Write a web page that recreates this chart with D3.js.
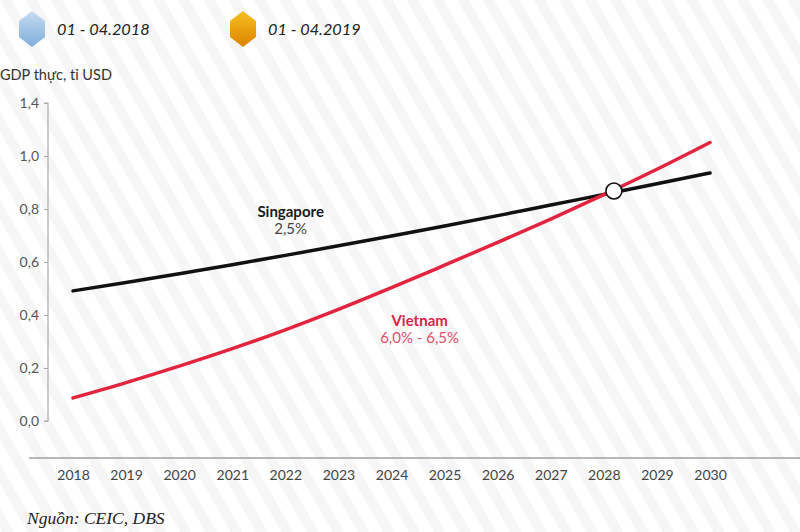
<!DOCTYPE html>
<html><head><meta charset="utf-8">
<script src="https://cdn.jsdelivr.net/npm/d3@7"></script>
<style>html,body{margin:0;padding:0;background:#fff;}svg{display:block;}</style>
</head><body>
<script>
const years = [2018,2019,2020,2021,2022,2023,2024,2025,2026,2027,2028,2029,2030];
const singapore = [0.491,0.523,0.556,0.590,0.625,0.661,0.698,0.736,0.775,0.815,0.855,0.895,0.936];
const vietnam = [0.087,0.145,0.207,0.273,0.344,0.421,0.503,0.588,0.674,0.762,0.854,0.950,1.051];
const yTickValues = [0,0.2,0.4,0.6,0.8,1.0,1.2];
const yTickLabels = ["0,0","0,2","0,4","0,6","0,8","1,0","1,4"];
const crossing = {year: 2028.19, value: 0.868};
const legendItems = ["01 - 04.2018","01 - 04.2019"];
const seriesLabels = [
  {name:"Singapore", rate:"2,5%", year:2022.1, value:0.77},
  {name:"Vietnam", rate:"6,0% - 6,5%", year:2024.53, value:0.357}
];

const W=800,H=532;
const svg=d3.select("body").append("svg").attr("width",W).attr("height",H);
const defs=svg.append("defs");
const pat=defs.append("pattern").attr("id","stripes").attr("patternUnits","userSpaceOnUse")
  .attr("width",22).attr("height",22).attr("patternTransform","rotate(-30)");
pat.append("rect").attr("width",22).attr("height",22).attr("fill","#ffffff");
pat.append("rect").attr("width",10).attr("height",22).attr("fill","#f6f6f6");
svg.append("rect").attr("width",W).attr("height",H).attr("fill","url(#stripes)");

const gB=defs.append("linearGradient").attr("id","gBlue").attr("x1",0).attr("y1",0).attr("x2",0).attr("y2",1);
gB.append("stop").attr("offset","0%").attr("stop-color","#c6dcf1");
gB.append("stop").attr("offset","100%").attr("stop-color","#7eaedb");
const gO=defs.append("linearGradient").attr("id","gOrange").attr("x1",0).attr("y1",0).attr("x2",0).attr("y2",1);
gO.append("stop").attr("offset","0%").attr("stop-color","#f5c01e");
gO.append("stop").attr("offset","100%").attr("stop-color","#de8200");

const x=d3.scaleLinear().domain([2018,2030]).range([73,710]);
const y=d3.scaleLinear().domain([0,1.2]).range([421,103]);

// legend
const hex=(cx,cy,w,h)=>{const hw=w/2,hh=h/2,q=h/4;return `M${cx},${cy-hh} L${cx+hw},${cy-hh+q+1} L${cx+hw},${cy+hh-q-1} L${cx},${cy+hh} L${cx-hw},${cy+hh-q-1} L${cx-hw},${cy-hh+q+1} Z`;};
const legX=[32,243], fills=["url(#gBlue)","url(#gOrange)"];
legendItems.forEach((t,i)=>{
  svg.append("path").attr("d",hex(legX[i],29,26,36)).attr("fill",fills[i]);
  svg.append("text").attr("x",legX[i]+25).attr("y",35).text(t)
    .attr("font-family","Lato").attr("font-style","italic").attr("font-size",16.3).attr("fill","#222");
});

svg.append("text").attr("x",0).attr("y",80).text("GDP thực, tỉ USD")
  .attr("font-family","Lato").attr("font-size",14.5).attr("fill","#333");

// y axis
const yAxis=d3.axisLeft(y).tickValues(yTickValues).tickFormat((d,i)=>yTickLabels[i]).tickSize(4).tickPadding(5);
const ga=svg.append("g").attr("transform","translate(48,0)").call(yAxis);
ga.select(".domain").attr("stroke","#aaa").attr("stroke-width",1.2).attr("d","M-4,103H0V421H-4");
ga.selectAll(".tick line").attr("stroke","#aaa");
ga.selectAll(".tick text").attr("font-family","Lato").attr("font-size",14).attr("fill","#555");

// x axis
const xAxis=d3.axisBottom(x).tickValues(years).tickFormat(d=>d).tickSize(0).tickPadding(12);
const gx=svg.append("g").attr("transform","translate(0,458)").call(xAxis);
gx.select(".domain").attr("stroke","#a0a0a0").attr("stroke-width",1.5).attr("d","M29,0H800");
gx.selectAll(".tick text").attr("font-family","Lato").attr("font-size",14).attr("fill","#444");

// lines
const line=d3.line().x((d,i)=>x(years[i])).y(d=>y(d)).curve(d3.curveMonotoneX);
svg.append("path").datum(singapore).attr("d",line).attr("fill","none").attr("stroke","#111")
  .attr("stroke-width",3.5).attr("stroke-linecap","round");
svg.append("path").datum(vietnam).attr("d",line).attr("fill","none").attr("stroke","#e3243f")
  .attr("stroke-width",3.5).attr("stroke-linecap","round");

svg.append("circle").attr("cx",x(crossing.year)).attr("cy",y(crossing.value)).attr("r",8)
  .attr("fill","#fff").attr("stroke","#111").attr("stroke-width",1.6);

// series labels
const nameCol=["#1a1a1a","#d82449"], rateCol=["#444","#e0506a"];
seriesLabels.forEach((s,i)=>{
  const cx=x(s.year), cy=y(s.value);
  svg.append("text").attr("x",cx).attr("y",cy).attr("text-anchor","middle").text(s.name)
    .attr("font-family","Lato").attr("font-weight","bold").attr("font-size",15).attr("fill",nameCol[i]);
  svg.append("text").attr("x",cx).attr("y",cy+17).attr("text-anchor","middle").text(s.rate)
    .attr("font-family","Lato").attr("font-size",15).attr("fill",rateCol[i]);
});

svg.append("text").attr("x",27).attr("y",524).text("Nguồn: CEIC, DBS")
  .attr("font-family","Liberation Serif").attr("font-style","italic").attr("font-size",17.5).attr("fill","#222");
</script>
</body></html>
